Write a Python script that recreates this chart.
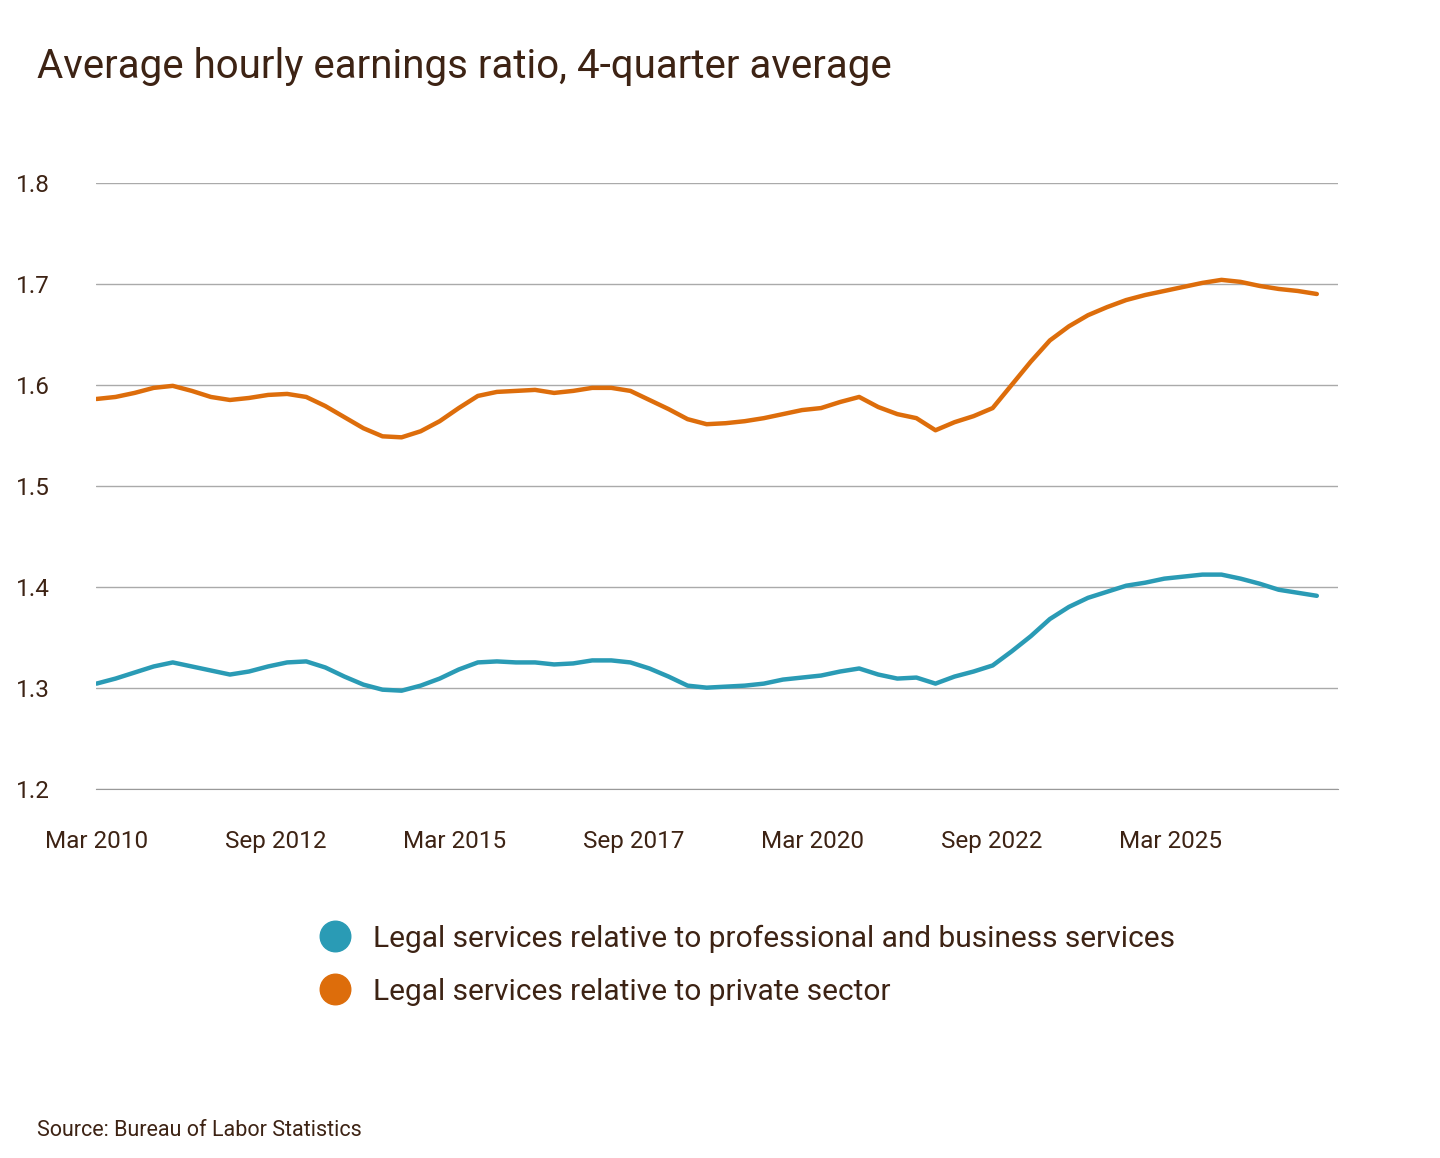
import numpy as np, pandas as pd, seaborn as sns, matplotlib
matplotlib.use("Agg")
import matplotlib.pyplot as plt
from matplotlib.lines import Line2D

orange = [1.586,1.588,1.592,1.597,1.599,1.594,1.588,1.585,1.587,1.590,1.591,1.588,1.579,1.568,1.557,1.549,1.548,1.554,1.564,1.577,1.589,1.593,1.594,1.595,1.592,1.594,1.597,1.597,1.594,1.585,1.576,1.566,1.561,1.562,1.564,1.567,1.571,1.575,1.577,1.583,1.588,1.578,1.571,1.567,1.555,1.563,1.569,1.577,1.600,1.623,1.644,1.658,1.669,1.677,1.684,1.689,1.693,1.697,1.701,1.704,1.702,1.698,1.695,1.693,1.690]
teal = [1.304,1.309,1.315,1.321,1.325,1.321,1.317,1.313,1.316,1.321,1.325,1.326,1.320,1.311,1.303,1.298,1.297,1.302,1.309,1.318,1.325,1.326,1.325,1.325,1.323,1.324,1.327,1.327,1.325,1.319,1.311,1.302,1.300,1.301,1.302,1.304,1.308,1.310,1.312,1.316,1.319,1.313,1.309,1.310,1.304,1.311,1.316,1.322,1.336,1.351,1.368,1.380,1.389,1.395,1.401,1.404,1.408,1.410,1.412,1.412,1.408,1.403,1.397,1.394,1.391]
start_year, end_year = 2010.0, 2027.04
tick_years = [2010.0, 2012.5, 2015.0, 2017.5, 2020.0, 2022.5, 2025.0]
tick_labels = ["Mar 2010","Sep 2012","Mar 2015","Sep 2017","Mar 2020","Sep 2022","Mar 2025"]
yticks = [1.2,1.3,1.4,1.5,1.6,1.7,1.8]
names = ["Legal services relative to professional and business services","Legal services relative to private sector"]
colors = ["#2a9bb5", "#dd6d0b"]

x = np.linspace(start_year, end_year, len(orange))
df = pd.concat([pd.DataFrame({"t": x, "v": teal, "s": names[0]}),
                pd.DataFrame({"t": x, "v": orange, "s": names[1]})])

sns.set_style("white")
plt.rcParams['font.family'] = ['Roboto', 'DejaVu Sans']
txt = "#3d2314"
fig = plt.figure(figsize=(14.4, 11.58), dpi=100)
ax = fig.add_axes([0.067, 0.319, 0.862, 0.523])
sns.lineplot(data=df, x="t", y="v", hue="s", palette=colors, linewidth=3.2, legend=False, ax=ax)
ax.set_xlim(start_year, start_year + (1338-97)/179*2.5)
ax.set_ylim(1.2, 1.8)
ax.set_yticks(yticks)
ax.set_yticklabels([f"{v:.1f}" for v in yticks], fontsize=17.5, color=txt, ha="left")
ax.tick_params(axis="y", length=0, pad=58)
ax.set_xticks(tick_years)
ax.set_xticklabels(tick_labels, fontsize=17.5, color=txt)
ax.tick_params(axis="x", length=8, color="#999999", pad=22)
ax.grid(axis="y", color="#aaaaaa", linewidth=1)
for s in ["left", "right", "top"]:
    ax.spines[s].set_visible(False)
ax.spines["bottom"].set_color("#999999")
ax.set_xlabel(""); ax.set_ylabel("")

fig.text(0.026, 0.943, "Average hourly earnings ratio, 4-quarter average", fontsize=29, color=txt, va="center")
handles = [Line2D([], [], marker="o", linestyle="", markersize=22, color=c) for c in colors]
fig.legend(handles, names, loc="upper left", bbox_to_anchor=(0.193, 0.225), frameon=False,
           prop={"size": 21.5}, labelcolor=txt, handletextpad=0.3, labelspacing=0.85)
fig.text(0.026, 0.024, "Source: Bureau of Labor Statistics", fontsize=15.5, color=txt, va="center")
fig.savefig("out.png", dpi=100)
